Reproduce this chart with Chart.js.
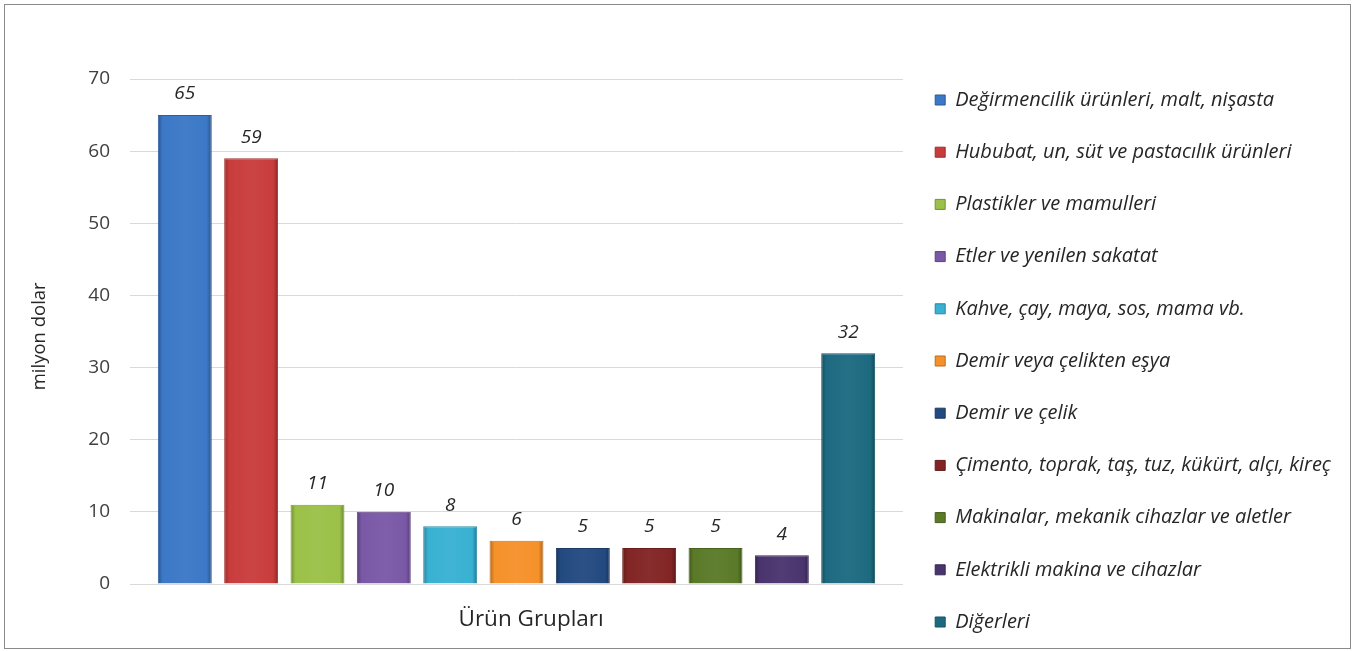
<!DOCTYPE html>
<html>
<head>
<meta charset="utf-8">
<script src="https://cdn.jsdelivr.net/npm/chart.js@4.4.1/dist/chart.umd.min.js"></script>
<style>
  html, body { margin: 0; padding: 0; background: #ffffff; overflow: hidden; }
  #wrap { position: relative; width: 1360px; height: 651px; }
  #c { position: absolute; left: 0; top: 0; }
  #frame { position: absolute; left: 4px; top: 4px; width: 1347px; height: 645px; box-sizing: border-box; border: 1.5px solid #8a8a8a; pointer-events: none; }
</style>
</head>
<body>
<div id="wrap">
  <canvas id="c" width="1360" height="651"></canvas>
  <div id="frame"></div>
</div>
<script>
const categories = ['Ürün Grupları'];
const seriesNames = [
  'Değirmencilik ürünleri, malt, nişasta',
  'Hububat, un, süt ve pastacılık ürünleri',
  'Plastikler ve mamulleri',
  'Etler ve yenilen sakatat',
  'Kahve, çay, maya, sos, mama vb.',
  'Demir veya çelikten eşya',
  'Demir ve çelik',
  'Çimento, toprak, taş, tuz, kükürt, alçı, kireç',
  'Makinalar, mekanik cihazlar ve aletler',
  'Elektrikli makina ve cihazlar',
  'Diğerleri'
];
const seriesValues = [65, 59, 11, 10, 8, 6, 5, 5, 5, 4, 32];
const seriesColors = [
  '#3B78C6', '#C93C3C', '#9BC148', '#7A58A6', '#38B1D2', '#F5912A',
  '#234A80', '#822424', '#5A7A28', '#4A346E', '#1D6A80'
];
const yTickMin = 0, yTickMax = 70, yTickStep = 10;
const yAxisTitle = 'milyon dolar';
const xAxisTitle = 'Ürün Grupları';

const FONT = "'Open Sans', sans-serif";
const TEXT = '#262626';

function shade(hex, f) {
  const n = parseInt(hex.slice(1), 16);
  let r = (n >> 16) & 255, g = (n >> 8) & 255, b = n & 255;
  if (f < 1) { r *= f; g *= f; b *= f; }
  else { const t = f - 1; r += (255 - r) * t; g += (255 - g) * t; b += (255 - b) * t; }
  return 'rgb(' + Math.round(r) + ',' + Math.round(g) + ',' + Math.round(b) + ')';
}

function barFill(ctx, color) {
  const el = ctx.element;
  if (!el || el.x == null || !isFinite(el.x) || !el.width) return color;
  const c = ctx.chart.ctx;
  const x0 = el.x - el.width / 2, x1 = el.x + el.width / 2;
  const g = c.createLinearGradient(x0, 0, x1, 0);
  g.addColorStop(0, shade(color, 0.72));
  g.addColorStop(0.09, color);
  g.addColorStop(0.5, shade(color, 1.04));
  g.addColorStop(0.91, color);
  g.addColorStop(1, shade(color, 0.68));
  return g;
}

const legendFontSize = 20;
const legendPad = 32.2;
const legendBox = 10;
const plotRight = 903;

const valueLabels = {
  id: 'valueLabels',
  afterDatasetsDraw(chart) {
    const c = chart.ctx;
    c.save();
    c.font = 'italic 19px ' + FONT;
    c.fillStyle = TEXT;
    c.textAlign = 'center';
    c.textBaseline = 'middle';
    chart.data.datasets.forEach((ds, i) => {
      const meta = chart.getDatasetMeta(i);
      meta.data.forEach((el, j) => {
        c.fillText(String(ds.data[j]), el.x, el.y - 21);
      });
    });
    c.restore();
  }
};

let built = false;
function build() {
  if (built) return;
  built = true;
  const datasets = seriesNames.map((name, i) => ({
    label: name,
    data: [seriesValues[i]],
    backgroundColor: (ctx) => barFill(ctx, seriesColors[i]),
    borderColor: shade(seriesColors[i], 0.8),
    borderWidth: 1,
    categoryPercentage: 0.944,
    barPercentage: 0.813
  }));

  const chart = new Chart(document.getElementById('c'), {
    type: 'bar',
    data: { labels: categories, datasets },
    options: {
      responsive: false,
      animation: false,
      devicePixelRatio: 1,
      layout: { padding: { left: 10, right: 0, top: 10, bottom: -13.2 } },
      plugins: {
        title: {
          display: true, text: ' ', fullSize: false,
          font: { size: 12 }, padding: { top: 54.6, bottom: 0 }
        },
        tooltip: { enabled: false },
        legend: {
          position: 'right',
          align: 'end',
          labels: {
            boxWidth: legendBox,
            boxHeight: legendBox,
            padding: legendPad,
            color: TEXT,
            font: { family: FONT, size: legendFontSize, style: 'italic' },
            generateLabels: (ch) => ch.data.datasets.map((ds, i) => ({
              text: ds.label,
              fillStyle: seriesColors[i],
              strokeStyle: shade(seriesColors[i], 0.75),
              lineWidth: 1,
              hidden: false,
              datasetIndex: i,
              fontColor: TEXT
            }))
          }
        }
      },
      scales: {
        x: {
          grid: { display: false },
          border: { display: false },
          ticks: { display: false },
          title: {
            display: true, text: '     ' + xAxisTitle, color: TEXT,
            font: { family: FONT, size: 22.5 },
            padding: { top: 0, bottom: 31 }
          },
          afterFit: (s) => { s.height = 80.2; }
        },
        y: {
          min: yTickMin, max: yTickMax,
          ticks: {
            stepSize: yTickStep, color: '#404040', padding: 20,
            font: { family: FONT, size: 19 }
          },
          grid: { color: '#d9d9d9', lineWidth: 1, drawTicks: false },
          border: { display: false },
          title: {
            display: true, text: yAxisTitle + '  ', color: TEXT,
            font: { family: FONT, size: 18.5 },
            padding: { top: 18.9, bottom: 0 }
          },
          afterFit: (s) => { s.width = 120; }
        }
      }
    },
    plugins: [valueLabels]
  });
  // let the legend take the width its labels need (default cap is a quarter of the canvas)
  const lg = chart.legend;
  const protoFit = Object.getPrototypeOf(lg).fit;
  lg.fit = function () { this.maxWidth = 2000; protoFit.call(this); };
  chart.update();
  // shift the right padding so the plot area ends where the reference's does
  const delta = chart.chartArea.right - plotRight;
  chart.options.layout.padding.right = delta;
  chart.update();
  chart.update();
}

if (document.fonts && document.fonts.load) {
  Promise.all([
    document.fonts.load("italic 20px 'Open Sans'"),
    document.fonts.load("19px 'Open Sans'"),
    document.fonts.load("22px 'Open Sans'")
  ]).then(build, build);
  setTimeout(build, 1500);
} else {
  build();
}
</script>
</body>
</html>
